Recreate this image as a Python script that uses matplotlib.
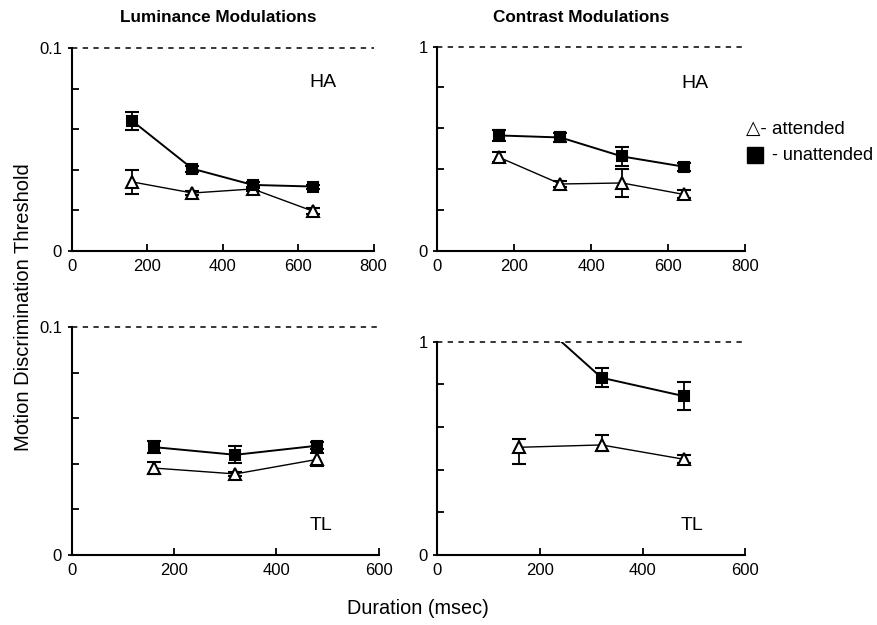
import matplotlib
matplotlib.use("Agg")
import matplotlib.pyplot as plt
from matplotlib.lines import Line2D

plt.rcParams['font.family'] = ['Liberation Sans', 'DejaVu Sans']

# ---- data ----
dur_long = [160, 320, 480, 640]
dur_short = [160, 320, 480]

# Luminance HA
lum_ha_unatt = [0.0642, 0.0405, 0.0325, 0.0317]
lum_ha_unatt_err = [0.0045, 0.0015, 0.0015, 0.0010]
lum_ha_att = [0.0340, 0.0285, 0.0305, 0.0195]
lum_ha_att_err = [0.0058, 0.0012, 0.0012, 0.0015]

# Contrast HA
con_ha_unatt = [0.565, 0.555, 0.462, 0.412]
con_ha_unatt_err = [0.025, 0.020, 0.045, 0.020]
con_ha_att = [0.458, 0.327, 0.332, 0.276]
con_ha_att_err = [0.025, 0.015, 0.070, 0.020]

# Luminance TL
lum_tl_unatt = [0.0474, 0.0440, 0.0480]
lum_tl_unatt_err = [0.0028, 0.0038, 0.0015]
lum_tl_att = [0.0382, 0.0356, 0.0420]
lum_tl_att_err = [0.0025, 0.0008, 0.0030]

# Contrast TL
con_tl_unatt = [1.176, 0.831, 0.745]
con_tl_unatt_err = [0.03, 0.045, 0.065]
con_tl_att = [0.505, 0.516, 0.449]
con_tl_att_err_low = [0.080, 0.030, 0.020]
con_tl_att_err_high = [0.040, 0.045, 0.020]

fig = plt.figure(figsize=(8.78, 6.25), dpi=100)
W, H = 878.0, 625.0

def make_ax(left, right, top, bottom):
    return fig.add_axes([left / W, 1 - bottom / H, (right - left) / W, (bottom - top) / H])

ax_tl = make_ax(71.7, 373.5, 48.3, 250.7)
ax_tr = make_ax(437.3, 745.3, 46.7, 250.7)
ax_bl = make_ax(71.7, 378.6, 327.3, 555.0)
ax_br = make_ax(437.3, 745.3, 341.7, 555.0)

def style(ax, xmax, xticks, ymax, yminor):
    ax.set_xlim(0, xmax)
    ax.set_ylim(0, ymax)
    for s in ['top', 'right']:
        ax.spines[s].set_visible(False)
    for s in ['left', 'bottom']:
        ax.spines[s].set_linewidth(1.5)
    ax.set_xticks(xticks)
    ax.set_xticklabels([str(t) for t in xticks])
    ax.set_yticks([0, ymax])
    ax.set_yticklabels(['0', str(ymax)])
    ax.set_yticks(yminor, minor=True)
    ax.tick_params(axis='x', which='major', direction='in', length=5, width=1.3,
                   labelsize=12, pad=6)
    ax.tick_params(axis='y', which='minor', direction='in', length=5, width=1.3)
    ax.tick_params(axis='y', which='major', direction='out', length=3, width=1.3,
                   labelsize=12, pad=4)
    ax.axhline(ymax, color='black', lw=1.1, ls=(0, (3.5, 3.5)), clip_on=False)

def series(ax, x, y, err, marker, face, lw):
    ax.errorbar(x, y, yerr=err, color='black', lw=lw, marker=marker,
                markersize=7.6 if marker == 's' else 8.5,
                markerfacecolor=face, markeredgecolor='black', markeredgewidth=1.5,
                ecolor='black', elinewidth=1.3, capsize=5, capthick=2.2, clip_on=True,
                zorder=3)

style(ax_tl, 800, [0, 200, 400, 600, 800], 0.1, [0.02, 0.04, 0.06, 0.08])
style(ax_tr, 800, [0, 200, 400, 600, 800], 1, [0.2, 0.4, 0.6, 0.8])
style(ax_bl, 600, [0, 200, 400, 600], 0.1, [0.02, 0.04, 0.06, 0.08])
style(ax_br, 600, [0, 200, 400, 600], 1, [0.2, 0.4, 0.6, 0.8])

series(ax_tl, dur_long, lum_ha_att, lum_ha_att_err, '^', 'white', 1.0)
series(ax_tl, dur_long, lum_ha_unatt, lum_ha_unatt_err, 's', 'black', 1.4)
series(ax_tr, dur_long, con_ha_att, con_ha_att_err, '^', 'white', 1.0)
series(ax_tr, dur_long, con_ha_unatt, con_ha_unatt_err, 's', 'black', 1.4)
series(ax_bl, dur_short, lum_tl_att, lum_tl_att_err, '^', 'white', 1.0)
series(ax_bl, dur_short, lum_tl_unatt, lum_tl_unatt_err, 's', 'black', 1.4)
series(ax_br, dur_short, con_tl_att, [con_tl_att_err_low, con_tl_att_err_high], '^', 'white', 1.0)
series(ax_br, dur_short, con_tl_unatt, con_tl_unatt_err, 's', 'black', 1.4)

# panel labels
ax_tl.text(0.833, 0.829, 'HA', transform=ax_tl.transAxes, fontsize=14, ha='center', va='center')
ax_tr.text(0.837, 0.822, 'HA', transform=ax_tr.transAxes, fontsize=14, ha='center', va='center')
ax_bl.text(0.811, 0.130, 'TL', transform=ax_bl.transAxes, fontsize=14, ha='center', va='center')
ax_br.text(0.827, 0.138, 'TL', transform=ax_br.transAxes, fontsize=14, ha='center', va='center')

# titles
fig.text(218 / W, 1 - 17 / H, 'Luminance Modulations', fontsize=12.3, fontweight='bold',
         ha='center', va='center')
fig.text(581 / W, 1 - 17 / H, 'Contrast Modulations', fontsize=12.3, fontweight='bold',
         ha='center', va='center')

# axis labels
fig.text(24 / W, 1 - 306.7 / H, 'Motion Discrimination Threshold', fontsize=14.5,
         rotation=90, ha='center', va='center')
fig.text(417.5 / W, 1 - 609 / H, 'Duration (msec)', fontsize=14.3, ha='center', va='center')

# legend
fig.text(746 / W, 1 - 129 / H, '\u25b3- attended', fontsize=13.5, ha='left', va='center',
         family=['Liberation Sans', 'DejaVu Sans'])
fig.add_artist(Line2D([755.5 / W], [1 - 155 / H], marker='s', markersize=11,
                      color='black', transform=fig.transFigure))
fig.text(772 / W, 1 - 156 / H, '- unattended', fontsize=13, ha='left', va='center')

fig.savefig('out.png', dpi=100)
